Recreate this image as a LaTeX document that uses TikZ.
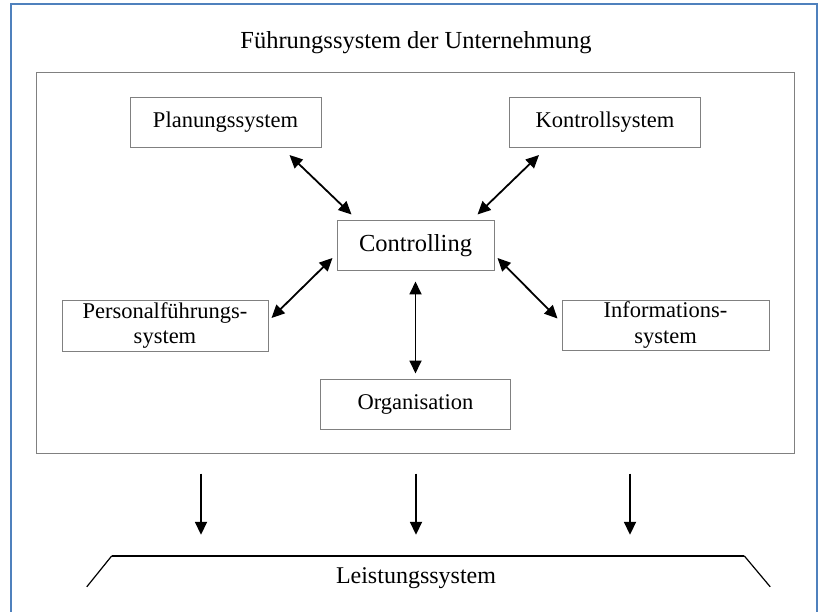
\documentclass[tikz,border=0pt]{standalone}
\usepackage{fontspec}
\setmainfont{Liberation Serif}
\usetikzlibrary{arrows.meta,positioning}

\definecolor{framegray}{RGB}{128,128,128}
\definecolor{pageblue}{RGB}{79,129,189}

\tikzset{
    sysbox/.style={draw=framegray, line width=1pt, inner sep=0pt,
        minimum height=50pt, font=\fontsize{22.5}{25}\selectfont},
    twoway/.style={{Triangle[length=13pt,width=12pt]}-{Triangle[length=13pt,width=12pt]},
        line width=1.8pt},
    oneway/.style={-{Triangle[length=13pt,width=12pt]}, line width=1.8pt}
}

\begin{document}
\begin{tikzpicture}[x=1pt,y=-1pt]

    \useasboundingbox (0,0) rectangle (822,612);
    \draw[pageblue, line width=1.5pt] (11,615) -- (11,4) -- (817,4) -- (817,615);

    \node[font=\fontsize{24.5}{28}\selectfont] (title) at (416,43) {F\"uhrungssystem der Unternehmung};

    \node[draw=framegray, line width=1pt, minimum width=758pt, minimum height=380pt] (fuehrung) at (415,263) {};

    % ----------

    \node[sysbox, minimum width=191pt] (planung) at (225.5,122.5) {Planungssystem};
    \node[sysbox, minimum width=191pt] (kontrolle) at (605,122.5) {Kontrollsystem};

    \node[sysbox, minimum width=157pt, font=\fontsize{24.5}{28}\selectfont] (controlling) at (415.5,246) {Controlling};

    \node[sysbox, minimum width=206pt] (personal) at (165,326) {
    \begin{tabular}{@{}c@{}}
    Personalf\"uhrungs-\\
    system
    \end{tabular}
    };
    \node[sysbox, minimum width=207pt] (info) at (665.5,325.5) {
    \begin{tabular}{@{}c@{}}
    Informations-\\
    system
    \end{tabular}
    };

    \node[sysbox, minimum width=190pt] (organisation) at (415.5,404) {Organisation};

    % ----------

    \draw[twoway] ([xshift=-32pt,yshift=-7pt]planung.south east) -- ([xshift=15pt,yshift=6pt]controlling.north west);
    \draw[twoway] ([xshift=30pt,yshift=-7pt]kontrolle.south west) -- ([xshift=-17pt,yshift=6pt]controlling.north east);
    \draw[twoway] ([xshift=-4pt,yshift=-12pt]controlling.west) -- ([xshift=3pt,yshift=8pt]personal.east);
    \draw[twoway] ([xshift=3pt,yshift=-12pt]controlling.east) -- ([xshift=-4pt,yshift=7pt]info.west);
    \draw[twoway] ([yshift=-10pt]controlling.south) -- ([yshift=5pt]organisation.north);

    % ----------

    \node[minimum width=632pt, minimum height=44pt, inner sep=0pt] (leistung) at (428,578) {};
    \node[font=\fontsize{24}{28}\selectfont] (leistungtext) at (416,578) {Leistungssystem};
    \draw[line width=1.8pt] (leistung.north west) -- (leistung.north east);
    \draw[line width=1.2pt] (leistung.north west) -- ++(-25,31);
    \draw[line width=1.2pt] (leistung.north east) -- ++(26,31);

    \draw[oneway] ([xshift=-214pt,yshift=-20pt]fuehrung.south) -- ([xshift=-227pt,yshift=21pt]leistung.north);
    \draw[oneway] ([xshift=1pt,yshift=-20pt]fuehrung.south) -- ([xshift=-12pt,yshift=21pt]leistung.north);
    \draw[oneway] ([xshift=215pt,yshift=-20pt]fuehrung.south) -- ([xshift=202pt,yshift=21pt]leistung.north);

\end{tikzpicture}
\end{document}
